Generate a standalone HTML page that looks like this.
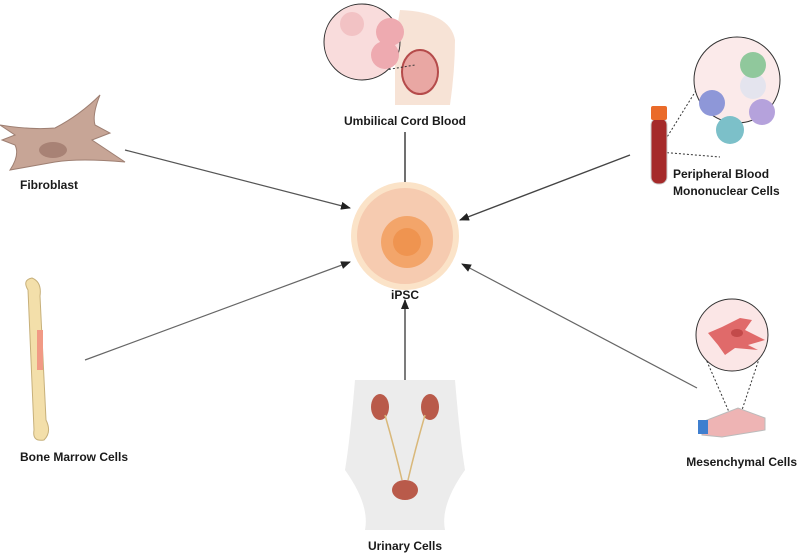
<!DOCTYPE html>
<html><head><style>
html,body{margin:0;padding:0;background:#fff;}
svg{display:block;font-family:"Liberation Sans",sans-serif;}
text{font-weight:bold;font-size:12px;fill:#1a1a1a;}
</style></head><body>
<svg width="800" height="554" viewBox="0 0 800 554">
<defs>
<marker id="ah" markerWidth="10" markerHeight="8" refX="9" refY="4" orient="auto" markerUnits="userSpaceOnUse"><path d="M0,0 L10,4 L0,8 Z" fill="#222"/></marker>
</defs>
<!-- arrows -->
<line x1="125" y1="150" x2="350" y2="208" stroke="#555" stroke-width="1.3" marker-end="url(#ah)"/>
<line x1="85" y1="360" x2="350" y2="262" stroke="#666" stroke-width="1.2" marker-end="url(#ah)"/>
<line x1="630" y1="155" x2="460" y2="220" stroke="#444" stroke-width="1.4" marker-end="url(#ah)"/>
<line x1="697" y1="388" x2="462" y2="264" stroke="#666" stroke-width="1.2" marker-end="url(#ah)"/>
<line x1="405" y1="132" x2="405" y2="197" stroke="#333" stroke-width="1.4" marker-end="url(#ah)"/>
<line x1="405" y1="382" x2="405" y2="300" stroke="#444" stroke-width="1.4" marker-end="url(#ah)"/>

<!-- iPSC -->
<circle cx="405" cy="236" r="54" fill="#fbe3c8"/>
<circle cx="405" cy="236" r="48" fill="#f6cbb0"/>
<circle cx="407" cy="242" r="26" fill="#f3a56a"/>
<circle cx="407" cy="242" r="14" fill="#ef9450"/>
<text x="405" y="299" text-anchor="middle">iPSC</text>

<!-- Umbilical -->
<path d="M400,10 Q450,12 455,40 Q455,70 450,105 L395,105 L395,40 Z" fill="#f7e3d6"/>
<ellipse cx="420" cy="72" rx="18" ry="22" fill="#e9a7a3" stroke="#b54b4b" stroke-width="2"/>
<line x1="385" y1="70" x2="415" y2="65" stroke="#333" stroke-dasharray="2,2"/>
<circle cx="362" cy="42" r="38" fill="#f9dcdc" stroke="#333" stroke-width="1"/>
<circle cx="390" cy="32" r="14" fill="#eeaab0"/>
<circle cx="385" cy="55" r="14" fill="#eeaab0"/>
<circle cx="352" cy="24" r="12" fill="#f2c2c4"/>
<text x="405" y="125" text-anchor="middle">Umbilical Cord Blood</text>

<!-- Fibroblast -->
<path d="M0,125 Q30,130 55,128 Q80,115 100,95 Q92,115 95,125 L110,133 L92,140 L125,162 Q80,158 55,162 L10,170 Q20,155 15,145 L2,140 L15,135 Z" fill="#c7a596" stroke="#9e7f72"/>
<ellipse cx="53" cy="150" rx="14" ry="8" fill="#a88275"/>
<text x="20" y="189">Fibroblast</text>

<!-- PBMC -->
<line x1="659" y1="150" x2="715" y2="60" stroke="#333" stroke-dasharray="2,2"/>
<line x1="659" y1="152" x2="720" y2="157" stroke="#333" stroke-dasharray="2,2"/>
<rect x="651" y="118" width="16" height="66" rx="7" fill="#a52a2a" stroke="#ccc"/>
<rect x="651" y="106" width="16" height="14" rx="2" fill="#ea6b2a"/>
<circle cx="737" cy="80" r="43" fill="#fbeaea" stroke="#333"/>
<circle cx="712" cy="103" r="13" fill="#8e97d8"/>
<circle cx="753" cy="86" r="13" fill="#e4e4ee"/>
<circle cx="753" cy="65" r="13" fill="#90c89c"/>
<circle cx="762" cy="112" r="13" fill="#b5a2dc"/>
<circle cx="730" cy="130" r="14" fill="#7cc0c9"/>
<text x="673" y="178">Peripheral Blood</text>
<text x="673" y="195">Mononuclear Cells</text>

<!-- Bone -->
<path d="M28,290 Q22,280 32,278 Q42,282 40,296 L46,420 Q52,432 44,440 Q32,442 34,430 Z" fill="#f3dfaa" stroke="#c7b07a"/>
<rect x="37" y="330" width="6" height="40" fill="#f19a85"/>
<text x="20" y="461">Bone Marrow Cells</text>

<!-- Urinary -->
<path d="M355,380 Q350,440 345,470 Q370,505 365,530 L445,530 Q440,505 465,470 Q460,440 455,380 Z" fill="#ececec"/>
<ellipse cx="380" cy="407" rx="9" ry="13" fill="#b95a4a"/>
<ellipse cx="430" cy="407" rx="9" ry="13" fill="#b95a4a"/>
<path d="M385,415 Q395,450 402,480 M425,415 Q415,450 408,480" stroke="#d9b87a" stroke-width="1.5" fill="none"/>
<ellipse cx="405" cy="490" rx="13" ry="10" fill="#b95a4a"/>
<text x="405" y="550" text-anchor="middle">Urinary Cells</text>

<!-- Mesenchymal -->
<line x1="702" y1="350" x2="736" y2="428" stroke="#333" stroke-dasharray="2,2"/>
<line x1="762" y1="350" x2="736" y2="428" stroke="#333" stroke-dasharray="2,2"/>
<circle cx="732" cy="335" r="36" fill="#fbe6e6" stroke="#333"/>
<path d="M708,333 L722,327 L740,318 L752,320 L745,330 L765,340 L748,345 L758,350 L735,348 L725,355 L718,345 Z" fill="#e06a6a"/>
<ellipse cx="737" cy="333" rx="6" ry="4" fill="#c34a4a"/>
<path d="M702,422 L738,408 L765,418 L765,430 L722,437 L702,435 Z" fill="#eeb4b4" stroke="#bbb"/>
<rect x="698" y="420" width="10" height="14" fill="#3f7fcf"/>
<text x="797" y="466" text-anchor="end">Mesenchymal Cells</text>
</svg>
</body></html>
